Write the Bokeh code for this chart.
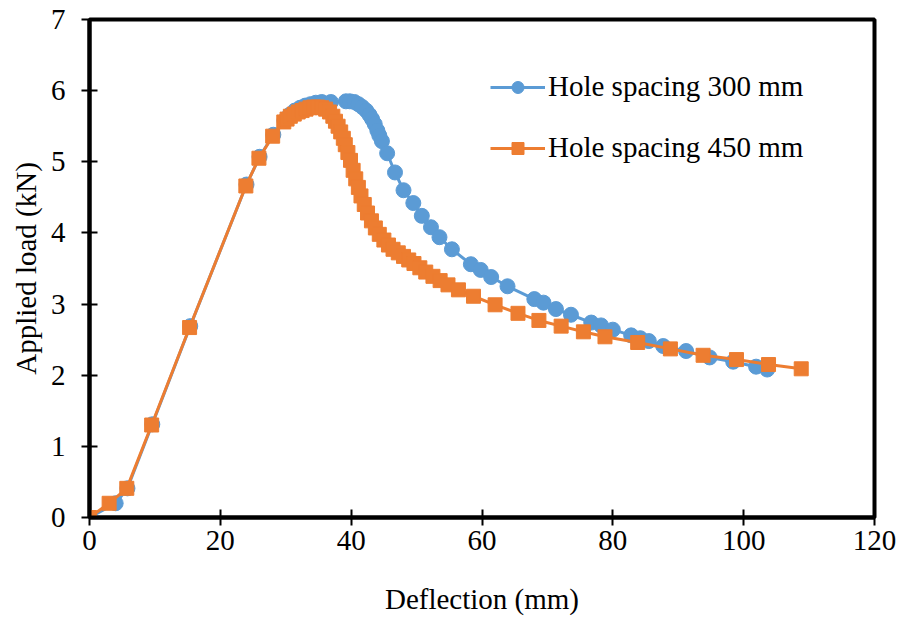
from bokeh.plotting import figure
from bokeh.models import Range1d, Legend, LegendItem, FixedTicker
from bokeh.embed import file_html
from bokeh.resources import INLINE

# Hole spacing 300 mm
x300 = [0, 4.0, 5.8, 9.6, 15.4, 24.0, 26.0, 28.1, 29.8, 30.6, 31.4, 32.2, 33.0, 33.8,
        34.6, 35.5, 36.9, 39.2, 39.8, 40.5, 41.1, 41.7, 42.3, 42.8, 43.2, 43.6, 44.0,
        44.3, 44.7, 45.5, 46.7, 48.0, 49.5, 50.8, 52.2, 53.5, 55.4, 58.3, 59.8, 61.4,
        63.9, 68.0, 69.4, 71.3, 73.6, 76.7, 78.2, 80.0, 82.8, 84.2, 85.5, 87.7, 91.2,
        94.8, 98.4, 101.9, 103.6]
y300 = [0, 0.20, 0.41, 1.31, 2.69, 4.68, 5.07, 5.38, 5.58, 5.66, 5.72, 5.76, 5.79, 5.81,
        5.83, 5.84, 5.84, 5.85, 5.85, 5.84, 5.81, 5.77, 5.72, 5.66, 5.60, 5.53, 5.44,
        5.37, 5.29, 5.12, 4.85, 4.60, 4.42, 4.24, 4.08, 3.94, 3.77, 3.56, 3.48, 3.38,
        3.25, 3.07, 3.02, 2.93, 2.85, 2.74, 2.70, 2.64, 2.56, 2.52, 2.48, 2.41, 2.34,
        2.25, 2.19, 2.12, 2.08]

# Hole spacing 450 mm
x450 = [0, 3.0, 5.7, 9.5, 15.3, 23.9, 25.9, 28.0, 29.7, 30.2, 30.7, 31.3, 31.9, 32.5,
        33.1, 33.7, 34.3, 34.9, 35.5, 36.1, 36.7, 37.2, 37.6, 38.0, 38.4, 38.8, 39.1,
        39.5, 39.9, 40.3, 40.7, 41.1, 41.5, 42.0, 42.5, 43.1, 43.7, 44.3, 45.0, 45.7,
        46.4, 47.2, 48.0, 48.8, 49.6, 50.5, 51.4, 52.5, 53.6, 54.8, 56.4, 58.7, 62.0,
        65.5, 68.7, 72.1, 75.5, 78.8, 83.8, 88.8, 93.8, 98.9, 103.8, 108.8]
y450 = [0, 0.20, 0.41, 1.30, 2.67, 4.66, 5.05, 5.36, 5.56, 5.60, 5.64, 5.67, 5.70, 5.72,
        5.74, 5.76, 5.77, 5.77, 5.76, 5.74, 5.70, 5.64, 5.57, 5.50, 5.42, 5.33, 5.24,
        5.13, 5.02, 4.88, 4.76, 4.64, 4.52, 4.40, 4.28, 4.17, 4.07, 3.98, 3.90, 3.83,
        3.77, 3.72, 3.67, 3.62, 3.57, 3.51, 3.45, 3.39, 3.33, 3.27, 3.20, 3.11, 2.99,
        2.87, 2.77, 2.69, 2.61, 2.54, 2.46, 2.37, 2.28, 2.22, 2.15, 2.09]

x_ticks = [0, 20, 40, 60, 80, 100, 120]
y_ticks = [0, 1, 2, 3, 4, 5, 6, 7]
labels = ["Hole spacing 300 mm", "Hole spacing 450 mm"]
x_title = "Deflection (mm)"
y_title = "Applied load (kN)"

BLUE = "#5B9BD5"
ORANGE = "#ED7D31"
FONT = "Liberation Serif"

p = figure(width=900, height=617, output_backend="svg", toolbar_location=None,
           x_range=Range1d(0, 120), y_range=Range1d(0, 7),
           min_border_left=89, min_border_right=26, min_border_top=19, min_border_bottom=100)
p.xgrid.visible = False
p.ygrid.visible = False
p.outline_line_color = "black"
p.outline_line_width = 4
p.background_fill_color = "white"
p.border_fill_color = "white"

l1 = p.line(x300, y300, line_color=BLUE, line_width=3)
m1 = p.scatter(x300, y300, marker="circle", size=15, fill_color=BLUE, line_color=BLUE)
l2 = p.line(x450, y450, line_color=ORANGE, line_width=3)
m2 = p.scatter(x450, y450, marker="square", size=14, fill_color=ORANGE, line_color=ORANGE)

for ax, ticks in ((p.xaxis[0], x_ticks), (p.yaxis[0], y_ticks)):
    ax.ticker = FixedTicker(ticks=ticks)
    ax.minor_tick_line_color = None
    ax.axis_line_width = 4
    ax.axis_line_color = "black"
    ax.major_tick_line_width = 2
    ax.major_tick_line_color = "black"
    ax.major_tick_in = 8
    ax.major_tick_out = 8
    ax.major_label_text_font = FONT
    ax.major_label_text_font_size = "29px"
    ax.major_label_text_color = "black"
    ax.axis_label_text_font = FONT
    ax.axis_label_text_font_size = "29px"
    ax.axis_label_text_font_style = "normal"
    ax.axis_label_text_color = "black"

p.xaxis[0].axis_label = x_title
p.yaxis[0].axis_label = y_title
p.xaxis[0].major_label_standoff = 5
p.yaxis[0].major_label_standoff = 16
p.xaxis[0].axis_label_standoff = 30
p.yaxis[0].axis_label_standoff = 6

legend = Legend(items=[LegendItem(label=labels[0], renderers=[l1, m1]),
                       LegendItem(label=labels[1], renderers=[l2, m2])],
                location=(401, 353), border_line_color=None, background_fill_alpha=0,
                padding=0, margin=0, spacing=28, glyph_width=55, glyph_height=30,
                label_height=30, label_standoff=3,
                label_text_font=FONT, label_text_font_size="29px", label_text_color="black")
p.add_layout(legend)

open("out.html", "w").write(file_html(p, INLINE))
